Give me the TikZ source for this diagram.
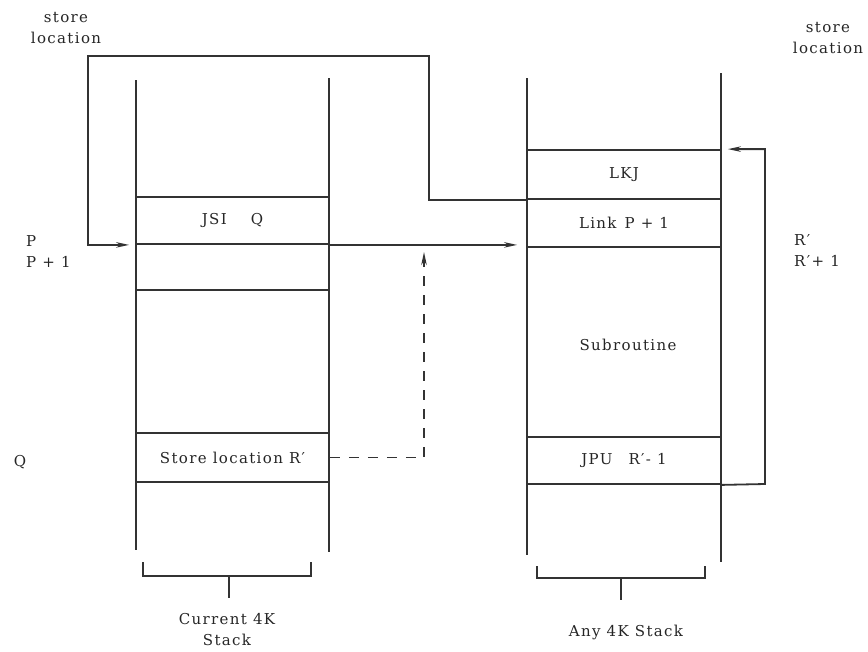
\documentclass[tikz,border=0pt]{standalone}
\usepackage{fontspec}
\setmainfont{DejaVu Serif}[LetterSpace=9]
\usetikzlibrary{arrows.meta}
\begin{document}
\begin{tikzpicture}[x=1pt,y=-1pt,
  ln/.style={draw=black!80,line width=1.8pt},
  dln/.style={draw=black!80,line width=1.8pt,dash pattern=on 10pt off 9pt},
  arr/.style={-{Stealth[length=13pt,width=5.5pt]}},
  txt/.style={font=\fontsize{15}{21}\selectfont,text=black!85,inner sep=0pt},
  cell/.style={draw=black!80,line width=1.8pt,inner sep=0pt,font=\fontsize{15}{21}\selectfont,text=black!85},
]
\useasboundingbox (0,0) rectangle (868,651);
% left stack sides
\draw[ln] (136,80) -- (136,550);
\draw[ln] (329,78) -- (329,552);
% left cells
\node[cell,minimum width=193pt,minimum height=47pt] (jsi) at (232.5,220.5) {JSI\hspace{24pt}Q};
\node[cell,minimum width=193pt,minimum height=46pt] (pone) at (232.5,267) {};
\node[cell,minimum width=193pt,minimum height=49pt] (store) at (232.5,457.5) {Store location R′};
% right stack sides
\draw[ln] (527,78) -- (527,555);
\draw[ln] (721,73) -- (721,562);
% right cells
\node[cell,minimum width=194pt,minimum height=49pt] (lkj) at (624,174.5) {LKJ};
\node[cell,minimum width=194pt,minimum height=48pt] (link) at (624,223) {Link\hspace{8pt}P + 1};
\node[cell,minimum width=194pt,minimum height=190pt] (sub) at (624,342) {};
\node[txt] (subt) at (628,345) {Subroutine};
\node[cell,minimum width=194pt,minimum height=47pt] (jpu) at (624,460.5) {JPU\hspace{16pt}R′- 1};
% store location loop
\coordinate (c1) at (429,56);
\coordinate (c2) at (88,56);
\draw[ln,arr,shorten >=6pt] (lkj.south west) -| (c1) -- (c2) |- (jsi.south west);
% call arrow
\draw[ln,arr,shorten >=9pt] (jsi.south east) -- (jsi.south east -| link.west);
% dashed reference
\coordinate (dtop) at (424,252);
\draw[dln,arr] (store.east) -| (dtop);
% return loop
\coordinate (r1) at (765,484);
\draw[ln,arr,shorten >=6pt] (jpu.south east) -- (r1) |- (lkj.north east);
% brackets
\coordinate (b1) at (143,562);
\coordinate (b2) at (311,562);
\coordinate (bm) at (229,576);
\draw[ln] (b1) |- (b2 |- bm) -- (b2);
\draw[ln] (bm) -- ++(0,22) coordinate (bs);
\coordinate (b3) at (537,566);
\coordinate (b4) at (705,566);
\coordinate (bn) at (621,578);
\draw[ln] (b3) |- (b4 |- bn) -- (b4);
\draw[ln] (bn) -- ++(0,22) coordinate (bt);
% labels
\node[txt,align=center] (sl1) at (66,28) {store\\location};
\node[txt,align=center] (sl2) at (828,38) {store\\location};
\node[txt,align=left,anchor=west] (plab) at (26,252) {P\\P + 1};
\node[txt] (qlab) at (20,462) {Q};
\node[txt,align=left,anchor=west] (rlab) at (794,251) {R′\\R′+ 1};
\node[txt,align=center] (cur) at (227,630) {Current 4K\\Stack};
\node[txt] (any) at (626,632) {Any 4K Stack};
\end{tikzpicture}
\end{document}
